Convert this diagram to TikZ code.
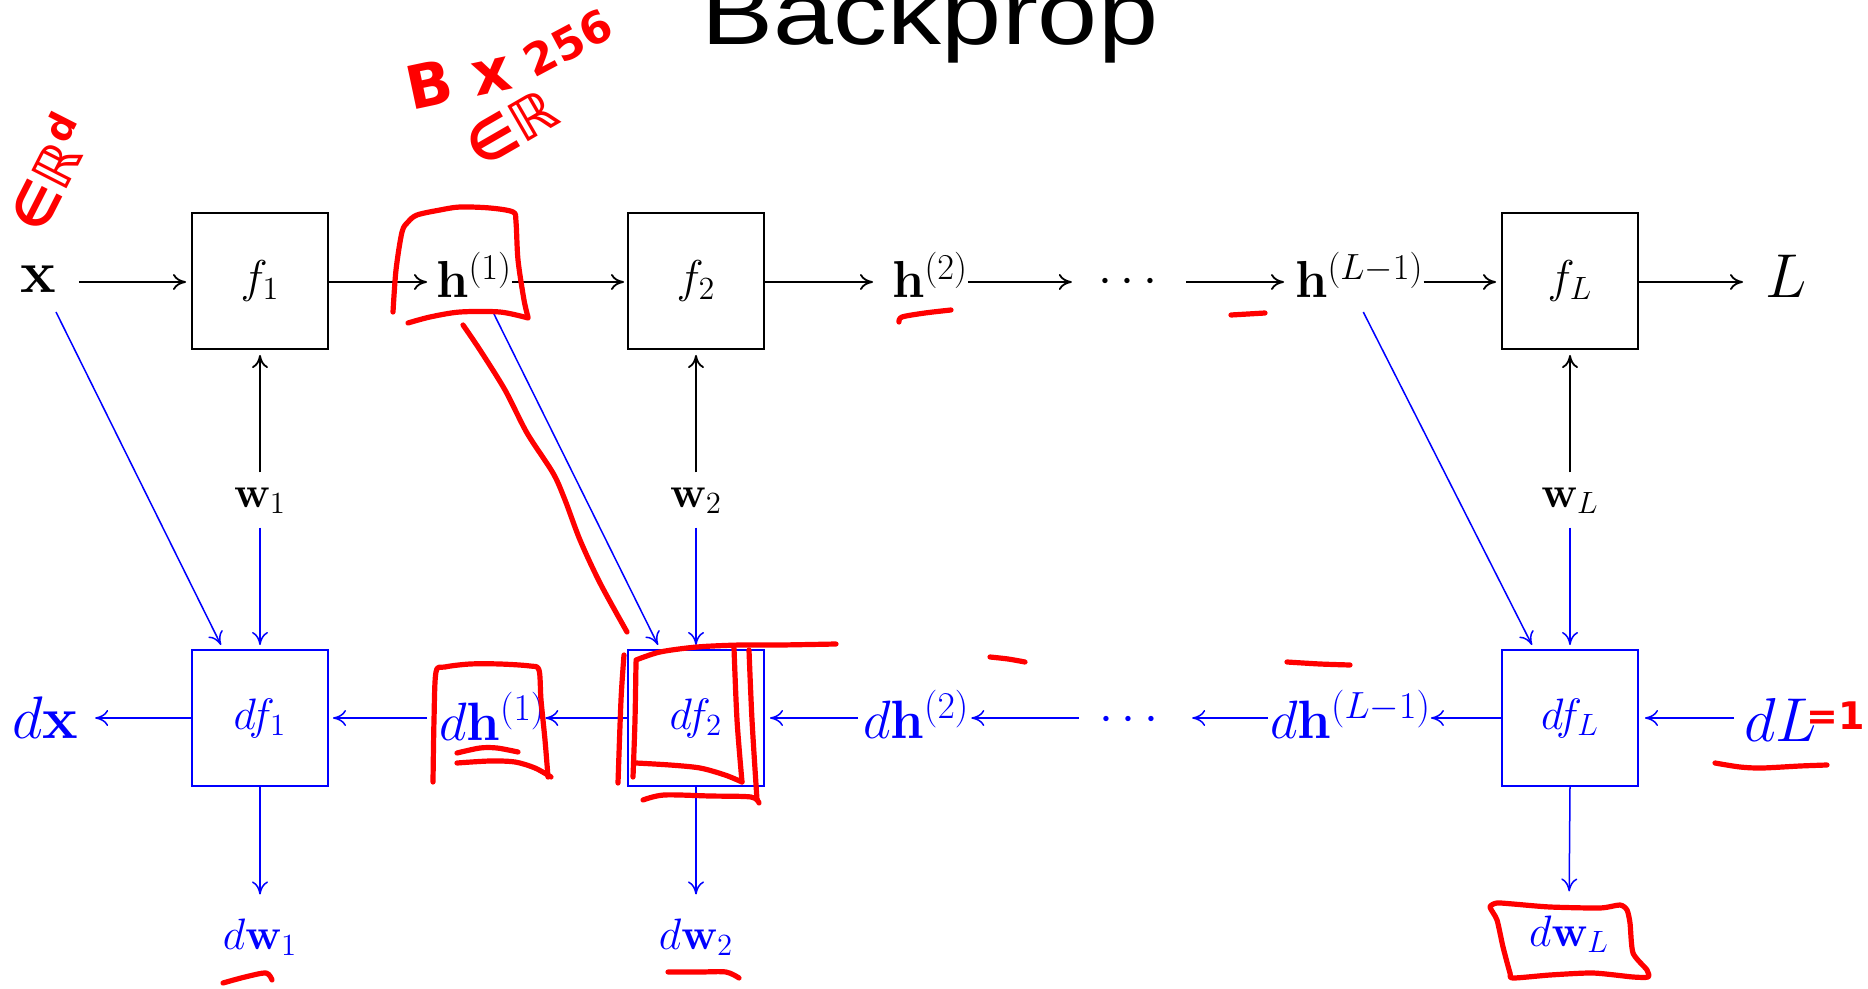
\RequirePackage{fix-cm}
\documentclass[tikz,border=0pt]{standalone}
\usepackage[no-math]{fontspec}
\newfontfamily\titlefont{Liberation Sans}
\newfontfamily\handfont{DejaVu Sans}
\usetikzlibrary{arrows.meta}
\newcommand{\fsz}[1]{\fontsize{#1}{#1}\selectfont}
\begin{document}
\begin{tikzpicture}[x=0.5pt,y=-0.5pt,
  box/.style={draw, line width=0.9pt, minimum width=68pt, minimum height=68pt, inner sep=0pt, outer sep=0pt, font=\fsz{23}},
  bbox/.style={box, draw=blue, text=blue, font=\fsz{22}},
  lbl/.style={inner sep=0pt, outer sep=0pt},
  arr/.style={line width=0.9pt, -{To[length=6.5pt,width=8pt]}},
  barr/.style={arr, draw=blue, line width=0.75pt},
  redpen/.style={draw=red, line width=2.6pt, line cap=round, line join=round},
  hand/.style={text=red, font=\handfont\bfseries\fsz{#1}, inner sep=0pt}
]
\useasboundingbox (0,0) rectangle (1868,989);
\fill[white] (0,0) rectangle (1868,989);

\node[lbl, anchor=base, font=\titlefont\fsz{45}] (title) at (930,45) {\scalebox{1.2}[1]{Backprop}};

\coordinate (rowT) at (0,282);
\coordinate (rowB) at (0,718);

% boxes
\node[box] (f1) at (260,281) {$f_1$};
\node[box] (f2) at (696,281) {$f_2$};
\node[box] (fL) at (1570,281) {$f_L$};
\node[bbox] (df1) at (260,718) {$df_1$};
\node[bbox] (df2) at (696,718) {$df_2$};
\node[bbox] (dfL) at (1570,718) {$df_L$};

% top labels
\node[lbl, anchor=base, font=\fsz{30}] (x) at (38,293) {$\mathbf{x}$};
\node[lbl, anchor=base west, font=\fsz{26}] (h1) at (436,298) {$\mathbf{h}^{(1)}$};
\node[lbl, anchor=base west, font=\fsz{26}] (h2) at (892,298) {$\mathbf{h}^{(2)}$};
\node[lbl, anchor=base, font=\fsz{25}] (dotsT) at (1128,294) {$\cdots$};
\node[lbl, anchor=base west, font=\fsz{26}] (hL) at (1295,298) {$\mathbf{h}^{(L-1)}$};
\node[lbl, anchor=base west, font=\fsz{31}] (L) at (1765,298) {$L$};

% bottom labels
\node[lbl, text=blue, anchor=base west, font=\fsz{30}] (dx) at (12,738) {$d\mathbf{x}$};
\node[lbl, text=blue, anchor=base west, font=\fsz{27}] (dh1) at (439,740) {$d\mathbf{h}^{(1)}$};
\node[lbl, text=blue, anchor=base west, font=\fsz{27}] (dh2) at (863,738) {$d\mathbf{h}^{(2)}$};
\node[lbl, text=blue, anchor=base, font=\fsz{25}] (dotsB) at (1129,731) {$\cdots$};
\node[lbl, text=blue, anchor=base west, font=\fsz{27}] (dhL) at (1270,738) {$d\mathbf{h}^{(L-1)}$};
\node[lbl, text=blue, anchor=base west, font=\fsz{31}] (dL) at (1744,741) {$dL$};

% weights
\node[lbl, anchor=base, font=\fsz{22}] (w1) at (260,507) {$\mathbf{w}_1$};
\node[lbl, anchor=base, font=\fsz{22}] (w2) at (696,507) {$\mathbf{w}_2$};
\node[lbl, anchor=base, font=\fsz{22}] (wL) at (1570,507) {$\mathbf{w}_L$};
\node[lbl, text=blue, anchor=base, font=\fsz{22}] (dw1) at (260,949) {$d\mathbf{w}_1$};
\node[lbl, text=blue, anchor=base, font=\fsz{22}] (dw2) at (696,949) {$d\mathbf{w}_2$};
\node[lbl, text=blue, anchor=base, font=\fsz{22}] (dwL) at (1569,946) {$d\mathbf{w}_L$};

% forward arrows
\draw[arr, shorten <=11.5pt, shorten >=3pt] (x.east |- rowT) -- (f1.west |- rowT);
\draw[arr, shorten >=4.5pt] (f1.east |- rowT) -- (h1.west |- rowT);
\draw[arr, shorten <=0pt, shorten >=2pt] (h1.east |- rowT) -- (f2.west |- rowT);
\draw[arr, shorten >=9.5pt] (f2.east |- rowT) -- (h2.west |- rowT);
\draw[arr, shorten >=13.5pt] (h2.east |- rowT) -- (dotsT.west |- rowT);
\draw[arr, shorten <=14.5pt, shorten >=5.5pt] (dotsT.east |- rowT) -- (hL.west |- rowT);
\draw[arr, shorten <=0pt, shorten >=3pt] (hL.east |- rowT) -- (fL.west |- rowT);
\draw[arr, shorten >=11pt] (fL.east |- rowT) -- (L.west |- rowT);

% backward arrows
\draw[barr, shorten >=8.5pt] (df1.west |- rowB) -- (dx.east |- rowB);
\draw[barr, shorten <=6pt, shorten >=2.5pt] (dh1.west |- rowB) -- (df1.east |- rowB);
\draw[barr] (df2.west |- rowB) -- (dh1.east |- rowB);
\draw[barr, shorten <=2.5pt, shorten >=3pt] (dh2.west |- rowB) -- (df2.east |- rowB);
\draw[barr, shorten <=10.5pt, shorten >=1pt] (dotsB.west |- rowB) -- (dh2.east |- rowB);
\draw[barr, shorten <=1pt, shorten >=17pt] (dhL.west |- rowB) -- (dotsB.east |- rowB);
\draw[barr] (dfL.west |- rowB) -- (dhL.east |- rowB);
\draw[barr, shorten <=5pt, shorten >=3.5pt] (dL.west |- rowB) -- (dfL.east |- rowB);

% verticals
\foreach \i in {1,2,L}{
  \draw[arr, shorten <=7.5pt, shorten >=3pt] (w\i.north) -- (f\i.south);
  \draw[barr, shorten <=7pt, shorten >=2.5pt] (w\i.south) -- (df\i.north);
  \draw[barr, shorten >=12pt] (df\i.south) -- (dw\i.north);
}

% diagonals
\draw[barr] ([xshift=9pt,yshift=-9.5pt]x.south) -- ([xshift=14.5pt,yshift=2.5pt]df1.north west);
\draw[barr] ([xshift=9pt,yshift=-6pt]h1.south) -- ([xshift=15pt,yshift=2.5pt]df2.north west);
\draw[barr] ([xshift=2pt,yshift=-7pt]hL.south) -- ([xshift=15pt,yshift=2.5pt]dfL.north west);

% red handwritten annotations
\node[hand=27, rotate=63] (ann1) at (48,172) {∈ℝ\textsuperscript{d}};
\node[hand=30, rotate=12] (ann2) at (458,78) {B x};
\node[hand=22, rotate=28] (ann3) at (568,43) {256};
\node[hand=28, rotate=30] (ann4) at (511,128) {∈ℝ};
\node[hand=19] (ann5) at (1836,716) {=1};

\draw[redpen] plot[smooth, tension=0.5] coordinates {(393,312) (396,270) (402,232) (408,222) (417,215) (440,210) (460,207) (490,208) (513,212) (516,222) (518,260) (524,300) (528,317)};
\draw[redpen] plot[smooth, tension=0.5] coordinates {(408,323) (430,317) (460,312) (500,312) (528,318)};
\draw[redpen] plot[smooth, tension=0.5] coordinates {(463,325) (480,350) (505,390) (527,433) (553,473) (565,500) (580,540) (600,583) (627,632)};

\draw[redpen] plot[smooth, tension=0.5] coordinates {(433,782) (434,720) (436,672) (445,667) (470,664) (500,664) (530,666) (539,670) (541,700) (545,740) (548,777)};
\draw[redpen] plot[smooth, tension=0.5] coordinates {(457,753) (480,748) (497,748) (518,752)};
\draw[redpen] plot[smooth, tension=0.5] coordinates {(457,763) (490,761) (515,762) (535,768) (551,777)};

\draw[redpen] plot[smooth, tension=0.5] coordinates {(624,655) (621,700) (618,783)};
\draw[redpen] plot[smooth, tension=0.5] coordinates {(636,662) (635,720) (633,777)};
\draw[redpen] plot[smooth, tension=0.5] coordinates {(636,660) (660,652) (697,647) (740,645) (780,645) (836,644)};
\draw[redpen] plot[smooth, tension=0.5] coordinates {(636,763) (670,765) (700,768) (725,775) (742,782)};
\draw[redpen] plot[smooth, tension=0.5] coordinates {(734,648) (737,720) (742,782)};
\draw[redpen] plot[smooth, tension=0.5] coordinates {(749,650) (752,720) (757,800)};
\draw[redpen] plot[smooth, tension=0.5] coordinates {(643,800) (664,795) (710,796) (751,797) (759,803)};

\draw[redpen] plot[smooth, tension=0.5] coordinates {(899,322) (902,317) (925,313) (951,310)};
\draw[redpen] plot[smooth, tension=0.5] coordinates {(1231,315) (1248,314) (1265,313)};
\draw[redpen] plot[smooth, tension=0.5] coordinates {(990,657) (1008,659) (1025,662)};
\draw[redpen] plot[smooth, tension=0.5] coordinates {(1287,662) (1320,664) (1350,665)};
\draw[redpen] plot[smooth, tension=0.5] coordinates {(1715,763) (1740,767) (1762,768) (1800,766) (1827,765)};
\draw[redpen] plot[smooth, tension=0.5] coordinates {(223,983) (245,977) (266,973) (272,980)};
\draw[redpen] plot[smooth, tension=0.5] coordinates {(668,972) (700,972) (726,972) (739,978)};
\draw[redpen] plot[smooth cycle, tension=0.4] coordinates {(1490,907) (1497,903) (1513,904) (1550,907) (1600,908) (1620,905) (1627,910) (1630,923) (1633,953) (1647,970) (1648,977) (1633,977) (1593,973) (1550,975) (1513,978) (1510,973) (1503,947) (1497,920)};
\end{tikzpicture}
\end{document}
